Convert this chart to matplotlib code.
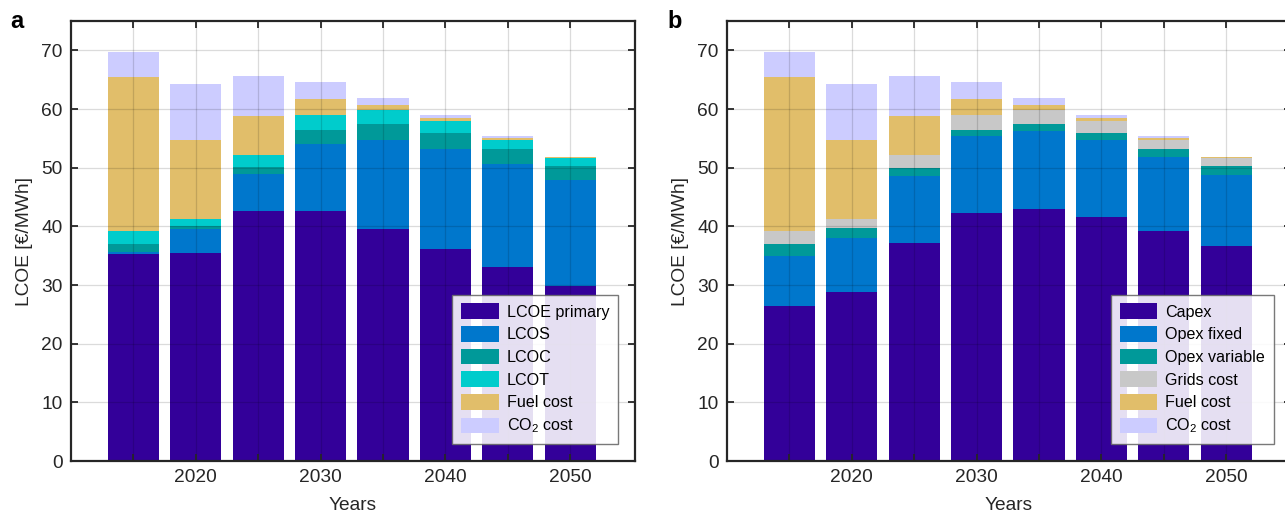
import numpy as np
import matplotlib
matplotlib.use("Agg")
import matplotlib.pyplot as plt

plt.rcParams['font.family'] = ['Liberation Sans', 'DejaVu Sans']
plt.rcParams['mathtext.fontset'] = 'custom'
plt.rcParams['mathtext.rm'] = 'Liberation Sans'
plt.rcParams['mathtext.default'] = 'regular'

# dados
anos = [2015, 2020, 2025, 2030, 2035, 2040, 2045, 2050]
tick_labels = ['', '2020', '', '2030', '', '2040', '', '2050']

# painel a
lcoe_primary = [35.3, 35.5, 42.6, 42.6, 39.5, 36.1, 33.1, 29.8]
lcos = [0.4, 4.0, 6.4, 11.5, 15.2, 17.1, 17.5, 18.1]
lcoc = [1.3, 0.5, 1.1, 2.3, 2.7, 2.7, 2.6, 2.4]
lcot = [2.2, 1.3, 2.1, 2.6, 2.5, 2.1, 1.6, 1.4]
fuel_a = [26.2, 13.4, 6.6, 2.7, 0.8, 0.5, 0.3, 0.15]
co2_a = [4.3, 9.6, 6.8, 2.9, 1.2, 0.5, 0.3, 0.05]

# painel b
capex = [26.5, 28.8, 37.2, 42.3, 43.0, 41.6, 39.2, 36.65]
opex_fixed = [8.5, 9.2, 11.4, 13.1, 13.25, 13.1, 12.6, 12.1]
opex_var = [2.0, 1.7, 1.4, 1.0, 1.15, 1.2, 1.4, 1.55]
grids = [2.2, 1.6, 2.2, 2.6, 2.5, 2.1, 1.6, 1.35]
fuel_b = fuel_a
co2_b = co2_a

labels_a = ['LCOE primary', 'LCOS', 'LCOC', 'LCOT', 'Fuel cost', 'CO$_2$ cost']
labels_b = ['Capex', 'Opex fixed', 'Opex variable', 'Grids cost', 'Fuel cost', 'CO$_2$ cost']
cores_a = ['#330099', '#0077CC', '#009999', '#00CCCC', '#E1BE6A', '#CCCCFF']
cores_b = ['#330099', '#0077CC', '#009999', '#C8C8C8', '#E1BE6A', '#CCCCFF']

W, H = 1285, 512
fig = plt.figure(figsize=(W/100, H/100), dpi=100)
ax_a = fig.add_axes([71/W, 1-461/H, 564/W, 440/H])
ax_b = fig.add_axes([727/W, 1-461/H, 564/W, 440/H])

def desenha(ax, series, labels, cores):
    base = np.zeros(len(anos))
    for s, lab, c in zip(series, labels, cores):
        ax.bar(anos, s, width=4.1, bottom=base, color=c, label=lab, zorder=1)
        base = base + np.array(s)
    ax.set_xlim(2010, 2055.2)
    ax.set_ylim(0, 75)
    ax.set_xticks(anos)
    ax.set_xticklabels(tick_labels)
    ax.set_yticks(np.arange(0, 71, 10))
    ax.set_axisbelow(False)
    ax.grid(True, color='k', alpha=0.14, linewidth=0.9, zorder=2)
    ax.tick_params(direction='in', top=True, right=True, length=5, width=1.3,
                   labelsize=13.8, colors='#262626', pad=6)
    for sp in ax.spines.values():
        sp.set_linewidth(1.6)
        sp.set_color('#262626')
    ax.set_xlabel('Years', fontsize=13.8, color='#262626', labelpad=8)
    ax.set_ylabel('LCOE [€/MWh]', fontsize=13.8, color='#262626', labelpad=6)
    leg = ax.legend(loc='lower right', fontsize=11.6, fancybox=False, framealpha=0.88,
                    edgecolor='#666666', handlelength=2.35, handleheight=1.1,
                    labelspacing=0.4, borderpad=0.55, handletextpad=0.5,
                    borderaxespad=0, bbox_to_anchor=(0.97, 0.038))
    leg.get_frame().set_linewidth(1.0)
    leg.set_zorder(5)

desenha(ax_a, [lcoe_primary, lcos, lcoc, lcot, fuel_a, co2_a], labels_a, cores_a)
desenha(ax_b, [capex, opex_fixed, opex_var, grids, fuel_b, co2_b], labels_b, cores_b)

fig.text(10/W, 1-22/H, 'a', fontsize=17, fontweight='bold', va='center')
fig.text(667/W, 1-22/H, 'b', fontsize=17, fontweight='bold', va='center')

fig.savefig('out.png', dpi=100)
